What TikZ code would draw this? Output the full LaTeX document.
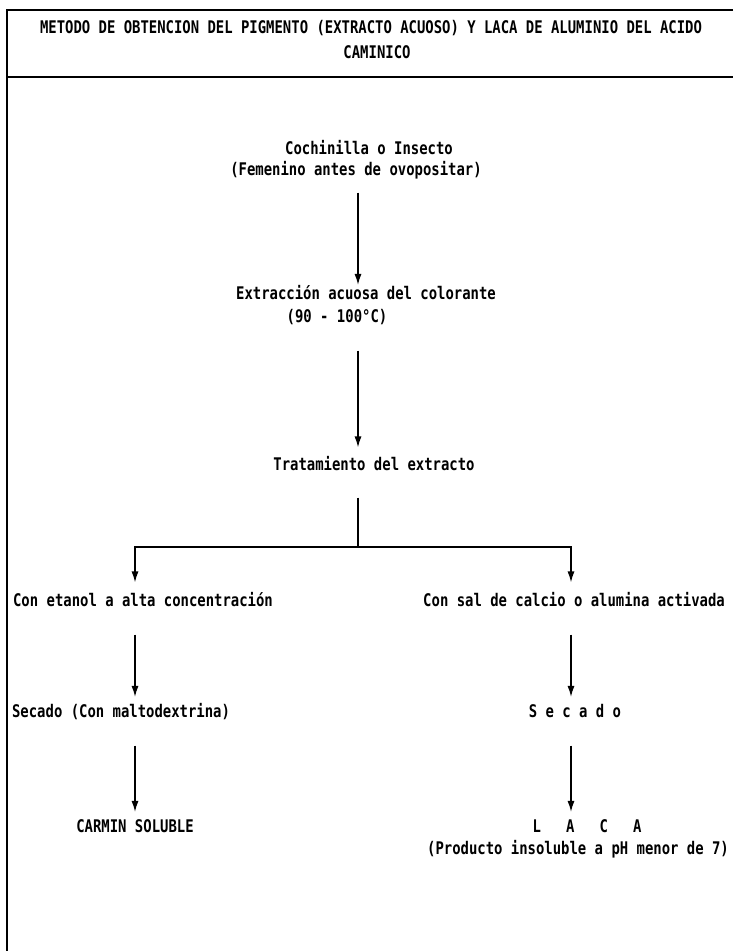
\documentclass[tikz,border=0pt]{standalone}
\usepackage{fontspec}
\newfontfamily\matriz{DejaVu Sans Mono}[FakeStretch=0.8]
\usetikzlibrary{arrows.meta}

\begin{document}
\begin{tikzpicture}[scale=1.0, every node/.style={font=\matriz\bfseries\fontsize{9.9}{11}\selectfont, inner sep=1pt, text height=7pt, text depth=2pt}, >={Latex[length=2.2mm, width=1.4mm]}, flecha/.style={->, line width=0.8pt, shorten <=0.45cm, shorten >=0.12cm}]
	\useasboundingbox (0,0) rectangle (14.66,19.02);
	\draw[line width=1pt] (14.66,18.82) -- (0.14,18.82) -- (0.14,0);
	\draw[line width=1pt] (0.14,17.48) -- (14.66,17.48);
	\node (titulo) at (7.42,18.44) {METODO DE OBTENCION DEL PIGMENTO (EXTRACTO ACUOSO) Y LACA DE ALUMINIO DEL ACIDO};
	\node (titulo2) at (7.54,17.94) {CAMINICO};
	\node (cochinilla) at (7.38,16.02) {Cochinilla o Insecto};
	\node (femenino) at (7.12,15.60) {(Femenino antes de ovopositar)};
	\node (extraccion) at (7.32,13.12) {Extracción acuosa del colorante};
	\node (temperatura) at (6.74,12.66) {(90 - 100°C)};
	\node (tratamiento) at (7.48,9.70) {Tratamiento del extracto};
	\node[anchor=west] (etanol) at (0.22,6.98) {Con etanol a alta concentración};
	\node[anchor=east] (calcio) at (14.54,6.98) {Con sal de calcio o alumina activada};
	\node[anchor=west] (maltodextrina) at (0.2,4.76) {Secado (Con maltodextrina)};
	\node (secado) at (11.5,4.76) {S e c a d o};
	\node (carmin) at (2.7,2.46) {CARMIN SOLUBLE};
	\node (laca) at (11.74,2.46) {L~~~A~~~C~~~A};
	\node (producto) at (11.56,2.02) {(Producto insoluble a pH menor de 7)};
	\coordinate (eje) at (7.16,0);
	\coordinate (izq) at (2.70,0);
	\coordinate (der) at (11.42,0);
	\coordinate (rama) at (7.16,8.08);
	\draw[flecha, shorten <=0.23cm, shorten >=0pt] (femenino.south -| eje) -- (extraccion.north -| eje);
	\draw[flecha, shorten >=0.17cm] (temperatura.south -| eje) -- (tratamiento.north -| eje);
	\draw[line width=0.8pt, shorten <=0.43cm] (tratamiento.south -| eje) -- (rama);
	\draw[flecha, shorten <=0pt, shorten >=0.19cm] (rama) -| (etanol.north -| izq);
	\draw[flecha, shorten <=0pt, shorten >=0.19cm] (rama) -| (calcio.north -| der);
	\draw[flecha] (etanol.south -| izq) -- (maltodextrina.north -| izq);
	\draw[flecha] (calcio.south -| der) -- (secado.north -| der);
	\draw[flecha] (maltodextrina.south -| izq) -- (carmin.north -| izq);
	\draw[flecha] (secado.south -| der) -- (laca.north -| der);
\end{tikzpicture}
\end{document}
